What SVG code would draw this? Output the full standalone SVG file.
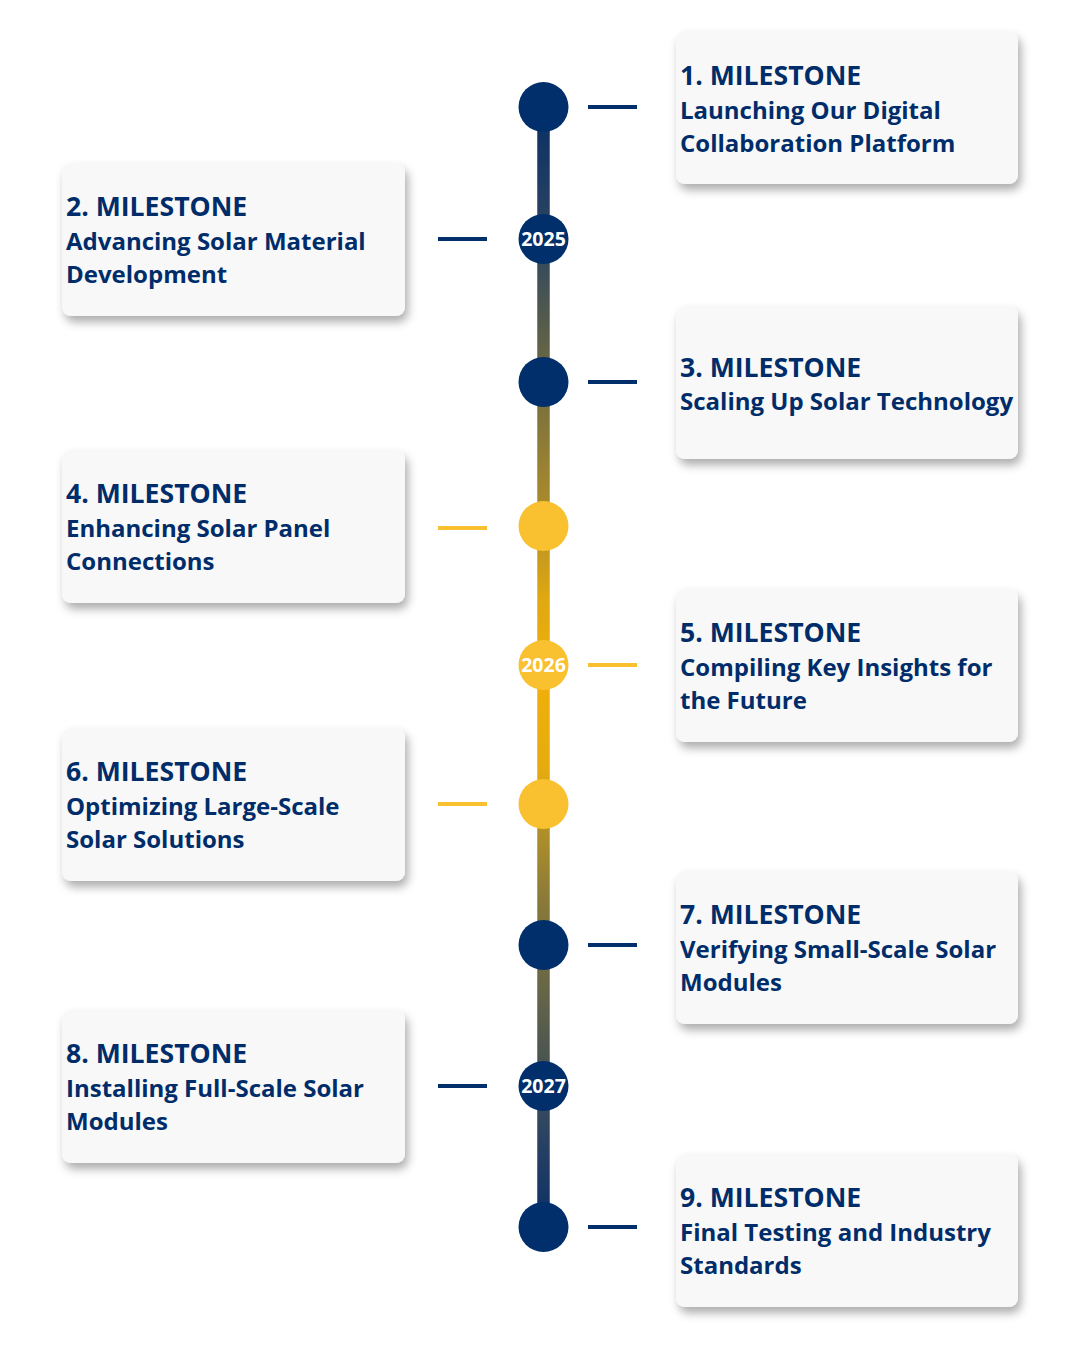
<svg xmlns="http://www.w3.org/2000/svg" width="1080" height="1350" viewBox="0 0 1080 1350">
  <defs>
    <linearGradient id="lineGrad" gradientUnits="userSpaceOnUse" x1="0" y1="107" x2="0" y2="1227">
      <stop offset="0" stop-color="#0a2f66"/>
      <stop offset="0.119" stop-color="#2d4560"/>
      <stop offset="0.239" stop-color="#6e6a42"/>
      <stop offset="0.351" stop-color="#a88a2c"/>
      <stop offset="0.44" stop-color="#e0a812"/>
      <stop offset="0.512" stop-color="#f0b00a"/>
      <stop offset="0.592" stop-color="#e6ab10"/>
      <stop offset="0.646" stop-color="#b09028"/>
      <stop offset="0.708" stop-color="#8a7a38"/>
      <stop offset="0.771" stop-color="#6e6a44"/>
      <stop offset="0.851" stop-color="#4a5552"/>
      <stop offset="0.913" stop-color="#2d4462"/>
      <stop offset="1" stop-color="#0a2f66"/>
    </linearGradient>
    <filter id="shadow" x="-20%" y="-30%" width="140%" height="170%">
      <feDropShadow dx="3" dy="6" stdDeviation="5" flood-color="#000000" flood-opacity="0.32"/>
    </filter>
  </defs>
  <style>
    .card { fill: #f8f8f8; filter: url(#shadow); }
    .title { font-family: "Open Sans", "Liberation Sans", sans-serif; font-weight: 700; font-size: 26.6px; fill: #002d6a; }
    .sub { font-family: "Open Sans", "Liberation Sans", sans-serif; font-weight: 700; font-size: 24px; fill: #002d6a; }
    .year { font-family: "Open Sans", "Liberation Sans", sans-serif; font-weight: 700; font-size: 19.5px; fill: #ffffff; text-anchor: middle; }
    .navy { fill: #012f6b; }
    .gold { fill: #f9c02f; }
    .dashN { stroke: #012f6b; stroke-width: 4; }
    .dashG { stroke: #f9c02f; stroke-width: 4; }
  </style>
  <rect width="1080" height="1350" fill="#ffffff"/>

  <g id="connectors">
    <line x1="543.5" y1="107" x2="543.5" y2="1227" stroke="url(#lineGrad)" stroke-width="12.5"/>
    <line class="dashN" x1="588" y1="107" x2="637" y2="107"/>
    <line class="dashN" x1="438" y1="239" x2="487" y2="239"/>
    <line class="dashN" x1="588" y1="382" x2="637" y2="382"/>
    <line class="dashG" x1="438" y1="528" x2="487" y2="528"/>
    <line class="dashG" x1="588" y1="665" x2="637" y2="665"/>
    <line class="dashG" x1="438" y1="804" x2="487" y2="804"/>
    <line class="dashN" x1="588" y1="945" x2="637" y2="945"/>
    <line class="dashN" x1="438" y1="1086" x2="487" y2="1086"/>
    <line class="dashN" x1="588" y1="1227" x2="637" y2="1227"/>
  </g>

  <g id="dot-1"><circle class="navy" cx="543.5" cy="107" r="25"/></g>
  <g id="year-2025"><circle class="navy" cx="543.5" cy="239" r="25"/><text class="year" x="543.5" y="246">2025</text></g>
  <g id="dot-3"><circle class="navy" cx="543.5" cy="382" r="25"/></g>
  <g id="dot-4"><circle class="gold" cx="543.5" cy="526" r="25"/></g>
  <g id="year-2026"><circle class="gold" cx="543.5" cy="665" r="25"/><text class="year" x="543.5" y="672">2026</text></g>
  <g id="dot-6"><circle class="gold" cx="543.5" cy="804" r="25"/></g>
  <g id="dot-7"><circle class="navy" cx="543.5" cy="945" r="25"/></g>
  <g id="year-2027"><circle class="navy" cx="543.5" cy="1086" r="25"/><text class="year" x="543.5" y="1093">2027</text></g>
  <g id="dot-9"><circle class="navy" cx="543.5" cy="1227" r="25"/></g>

  <g id="milestone-1">
    <rect class="card" x="676" y="31" width="342" height="153" rx="9"/>
    <text class="title" x="680" y="85">1. MILESTONE</text>
    <text class="sub" x="680" y="118.5">Launching Our Digital</text>
    <text class="sub" x="680" y="151.5">Collaboration Platform</text>
  </g>
  <g id="milestone-2">
    <rect class="card" x="62" y="163" width="343" height="153" rx="9"/>
    <text class="title" x="66" y="216">2. MILESTONE</text>
    <text class="sub" x="66" y="249.5">Advancing Solar Material</text>
    <text class="sub" x="66" y="282.5">Development</text>
  </g>
  <g id="milestone-3">
    <rect class="card" x="676" y="306" width="342" height="153" rx="9"/>
    <text class="title" x="680" y="377">3. MILESTONE</text>
    <text class="sub" x="680" y="410">Scaling Up Solar Technology</text>
  </g>
  <g id="milestone-4">
    <rect class="card" x="62" y="450" width="343" height="153" rx="9"/>
    <text class="title" x="66" y="503">4. MILESTONE</text>
    <text class="sub" x="66" y="536.5">Enhancing Solar Panel</text>
    <text class="sub" x="66" y="569.5">Connections</text>
  </g>
  <g id="milestone-5">
    <rect class="card" x="676" y="589" width="342" height="153" rx="9"/>
    <text class="title" x="680" y="642">5. MILESTONE</text>
    <text class="sub" x="680" y="675.5">Compiling Key Insights for</text>
    <text class="sub" x="680" y="708.5">the Future</text>
  </g>
  <g id="milestone-6">
    <rect class="card" x="62" y="728" width="343" height="153" rx="9"/>
    <text class="title" x="66" y="781">6. MILESTONE</text>
    <text class="sub" x="66" y="814.5">Optimizing Large-Scale</text>
    <text class="sub" x="66" y="847.5">Solar Solutions</text>
  </g>
  <g id="milestone-7">
    <rect class="card" x="676" y="871" width="342" height="153" rx="9"/>
    <text class="title" x="680" y="924">7. MILESTONE</text>
    <text class="sub" x="680" y="957.5">Verifying Small-Scale Solar</text>
    <text class="sub" x="680" y="990.5">Modules</text>
  </g>
  <g id="milestone-8">
    <rect class="card" x="62" y="1010" width="343" height="153" rx="9"/>
    <text class="title" x="66" y="1063">8. MILESTONE</text>
    <text class="sub" x="66" y="1096.5">Installing Full-Scale Solar</text>
    <text class="sub" x="66" y="1129.5">Modules</text>
  </g>
  <g id="milestone-9">
    <rect class="card" x="676" y="1154" width="342" height="153" rx="9"/>
    <text class="title" x="680" y="1207">9. MILESTONE</text>
    <text class="sub" x="680" y="1240.5">Final Testing and Industry</text>
    <text class="sub" x="680" y="1273.5">Standards</text>
  </g>
</svg>
